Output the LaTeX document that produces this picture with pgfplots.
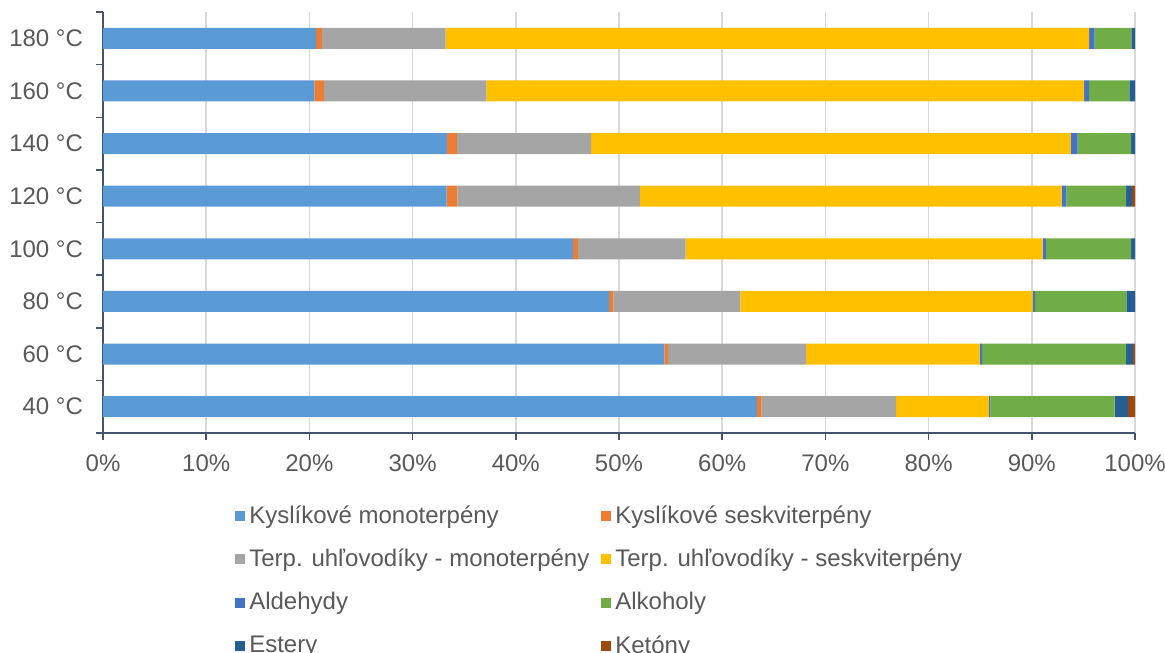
\documentclass[border=0pt]{standalone}
\usepackage{pgfplots}
\pgfplotsset{compat=1.18}
\usepackage{fontspec}
\setmainfont{Liberation Sans}
\definecolor{c1}{HTML}{5B9BD5}
\definecolor{c2}{HTML}{ED7D31}
\definecolor{c3}{HTML}{A5A5A5}
\definecolor{c4}{HTML}{FFC000}
\definecolor{c5}{HTML}{4472C4}
\definecolor{c6}{HTML}{70AD47}
\definecolor{c7}{HTML}{255E91}
\definecolor{c8}{HTML}{9E480E}
\definecolor{axisc}{HTML}{44546A}
\definecolor{gridc}{HTML}{D9D9D9}
\definecolor{textc}{HTML}{595959}
\begin{document}
\begin{tikzpicture}
\begin{axis}[
  at={(51.5pt,-216.5pt)}, anchor=south west,
  scale only axis, width=516pt, height=210.5pt,
  xbar stacked, bar width=10.5pt,
  xmin=0, xmax=100, ymin=-0.5, ymax=7.5,
  axis lines=left,
  axis line style={-, draw=axisc, line width=0.75pt},
  xtick={0,10,...,100},
  xticklabel={\pgfmathprintnumber{\tick}\%},
  /pgf/number format/assume math mode=true,
  xmajorgrids, major grid style={draw=gridc, line width=0.75pt},
  tick align=outside, major tick length=3.5pt,
  tick style={draw=axisc, line width=0.75pt},
  ytick={-0.5,0.5,...,7.5}, yticklabels={},
  extra y ticks={0,1,2,3,4,5,6,7},
  extra y tick labels={40 °C,60 °C,80 °C,100 °C,120 °C,140 °C,160 °C,180 °C},
  extra y tick style={tick style={draw=none}, yticklabel style={xshift=-3pt}},
  tick label style={font=\fontsize{12}{14}\selectfont, text=textc},
  xticklabel style={yshift=-4pt},
  legend columns=2,
  legend cell align=left,
  legend style={at={(0.122,-0.153)}, anchor=north west, draw=none,
    font=\fontsize{12}{14}\selectfont, text=textc,
    /tikz/every even column/.append style={column sep=4pt},
    row sep=7.3pt},
  legend image code/.code={\fill[#1] (0pt,-2.5pt) rectangle (5pt,2.5pt);},
]
\addplot[fill=c1, draw=none] coordinates {(63.35,0) (54.4,1) (49.05,2) (45.56,3) (33.3,4) (33.33,5) (20.48,6) (20.65,7)};
\addplot[fill=c2, draw=none] coordinates {(0.48,0) (0.35,1) (0.4,2) (0.45,3) (1.04,4) (0.97,5) (0.93,6) (0.55,7)};
\addplot[fill=c3, draw=none] coordinates {(13.01,0) (13.38,1) (12.3,2) (10.44,3) (17.67,4) (13.0,5) (15.73,6) (12.0,7)};
\addplot[fill=c4, draw=none] coordinates {(9.01,0) (16.82,1) (28.33,2) (34.6,3) (40.88,4) (46.46,5) (57.94,6) (62.36,7)};
\addplot[fill=c5, draw=none] coordinates {(0.14,0) (0.24,1) (0.25,2) (0.32,3) (0.45,4) (0.69,5) (0.48,6) (0.52,7)};
\addplot[fill=c6, draw=none] coordinates {(12.03,0) (13.94,1) (8.84,2) (8.25,3) (5.79,4) (5.17,5) (3.89,6) (3.57,7)};
\addplot[fill=c7, draw=none] coordinates {(1.32,0) (0.66,1) (0.83,2) (0.38,3) (0.59,4) (0.38,5) (0.55,6) (0.35,7)};
\addplot[fill=c8, draw=none] coordinates {(0.66,0) (0.21,1) (0,2) (0,3) (0.28,4) (0,5) (0,6) (0,7)};
\legend{Kyslíkové monoterpény, Kyslíkové seskviterpény, Terp. uhľovodíky - monoterpény, Terp. uhľovodíky - seskviterpény, Aldehydy, Alkoholy, Estery, Ketóny}
\end{axis}
\pgfresetboundingbox
\path[use as bounding box] (0pt,0pt) rectangle (582.5pt,-326pt);
\end{tikzpicture}
\end{document}
